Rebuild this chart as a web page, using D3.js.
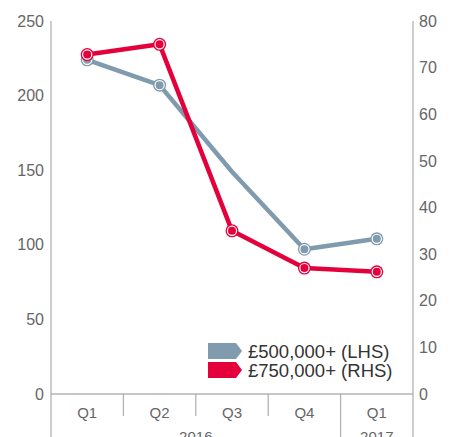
<!DOCTYPE html>
<html><head><meta charset="utf-8">
<script src="https://cdn.jsdelivr.net/npm/d3@7"></script>
<style>body{margin:0;background:#fff}svg{display:block}text{font-family:"Liberation Sans",Arial,sans-serif;fill:#666}</style>
</head><body><svg id="c" width="451" height="437"></svg>
<script>
const quarters = ["Q1","Q2","Q3","Q4","Q1"];
const years = [{label:"2016", from:0, to:4},{label:"2017", from:4, to:5}];
const lhsValues = [224, 207, 149, 97, 104];
const rhsValues = [72.8, 75, 35, 27, 26.2];
const lhsMarkers = [true, true, false, true, true];
const rhsMarkers = [true, true, true, true, true];
const lhsTicks = [0,50,100,150,200,250];
const rhsTicks = [0,10,20,30,40,50,60,70,80];
const seriesNames = ["£500,000+ (LHS)","£750,000+ (RHS)"];
const colors = ["#7f9bad","#e4003a"];

const svg = d3.select("#c");
const L = 51, R = 413, T = 21, B = 394;
const x = d3.scaleBand().domain(d3.range(quarters.length)).range([L, R]);
const yL = d3.scaleLinear().domain([0,250]).range([B, T]);
const yR = d3.scaleLinear().domain([0,80]).range([B, T]);
const axisCol = "#b3b3b3";

svg.append("line").attr("x1",L).attr("x2",L).attr("y1",T).attr("y2",437).attr("stroke",axisCol).attr("stroke-width",1.3);
svg.append("line").attr("x1",R).attr("x2",R).attr("y1",T).attr("y2",437).attr("stroke",axisCol).attr("stroke-width",1.3);
svg.append("line").attr("x1",L).attr("x2",R).attr("y1",B).attr("y2",B).attr("stroke",axisCol).attr("stroke-width",1.3);

const gL = svg.append("g").attr("transform",`translate(${L},0)`)
  .call(d3.axisLeft(yL).tickValues(lhsTicks).tickSize(0).tickPadding(7));
gL.select(".domain").remove();
gL.selectAll("text").attr("font-size",16).style("fill","#666").style("font-family","Liberation Sans, Arial");
const gR = svg.append("g").attr("transform",`translate(${R},0)`)
  .call(d3.axisRight(yR).tickValues(rhsTicks).tickSize(0).tickPadding(6));
gR.select(".domain").remove();
gR.selectAll("text").attr("font-size",16).style("fill","#666").style("font-family","Liberation Sans, Arial");

for (let i=1;i<quarters.length;i++){
  const xs = x(i);
  const yearBoundary = years.some(y=>y.from===i);
  svg.append("line").attr("x1",xs).attr("x2",xs).attr("y1",B).attr("y2",yearBoundary?437:416)
    .attr("stroke",axisCol).attr("stroke-width",1.3);
}
svg.selectAll("text.q").data(quarters).join("text").attr("class","q")
  .attr("x",(d,i)=>x(i)+x.bandwidth()/2).attr("y",418).attr("text-anchor","middle").attr("font-size",15).text(d=>d);
svg.selectAll("text.yr").data(years).join("text").attr("class","yr")
  .attr("x",d=>(x(d.from)+x(d.to-1)+x.bandwidth())/2).attr("y",442).attr("text-anchor","middle").attr("font-size",15).text(d=>d.label);

function drawSeries(vals, scale, col, markers){
  const line = d3.line().x((d,i)=>x(i)+x.bandwidth()/2).y(d=>scale(d));
  svg.append("path").datum(vals).attr("d",line).attr("fill","none").attr("stroke",col).attr("stroke-width",4.5).attr("stroke-linejoin","round");
  const pts = vals.map((v,i)=>({v,i})).filter(d=>markers[d.i]);
  svg.selectAll(null).data(pts).join("circle").attr("cx",d=>x(d.i)+x.bandwidth()/2).attr("cy",d=>scale(d.v)).attr("r",6.5).attr("fill",col);
  svg.selectAll(null).data(pts).join("circle").attr("cx",d=>x(d.i)+x.bandwidth()/2).attr("cy",d=>scale(d.v)).attr("r",4.6).attr("fill",col).attr("stroke","#fff").attr("stroke-width",1.2);
}
drawSeries(lhsValues, yL, colors[0], lhsMarkers);
drawSeries(rhsValues, yR, colors[1], rhsMarkers);

const lg = svg.append("g");
seriesNames.forEach((n,i)=>{
  const y0 = 343 + i*19;
  const w = 34, h = 16;
  lg.append("path").attr("d",`M208,${y0}L${208+w-6},${y0}L${208+w},${y0+h/2}L${208+w-6},${y0+h}L208,${y0+h}Z`).attr("fill",colors[i]);
  lg.append("text").attr("x",248).attr("y",y0+h/2+6.5).attr("font-size",18.5).style("fill","#333").text(n);
});
</script></body></html>
